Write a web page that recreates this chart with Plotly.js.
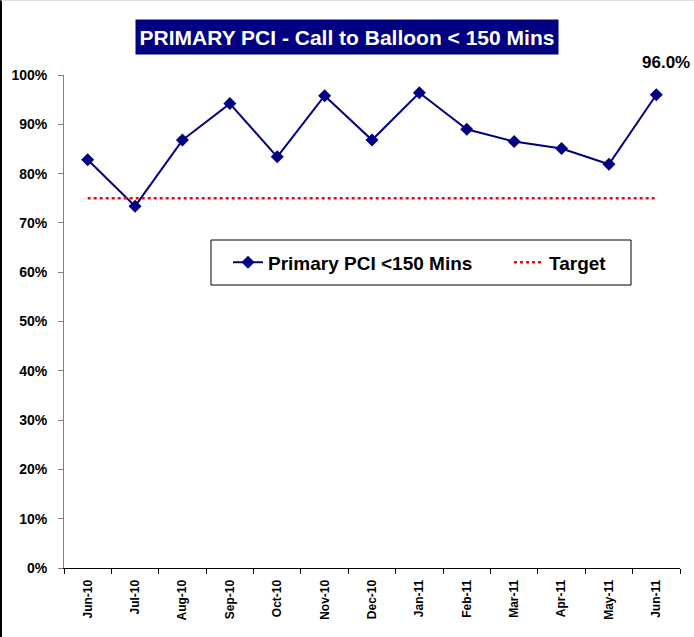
<!DOCTYPE html>
<html>
<head>
<meta charset="utf-8">
<script src="https://cdn.plot.ly/plotly-3.0.1.min.js"></script>
<style>
  html, body { margin: 0; padding: 0; background: #fff; }
  #chart { width: 694px; height: 637px; position: absolute; left: 0; top: 0; }
  #frame { position: absolute; left: 0; top: 0; width: 694px; height: 637px; box-sizing: border-box;
           border-left: 2px solid #000; border-top: 1px solid #e0e0e0; pointer-events: none; }
</style>
</head>
<body>
<div id="chart"></div>
<div id="frame"></div>
<script>
const months = ["Jun-10","Jul-10","Aug-10","Sep-10","Oct-10","Nov-10","Dec-10","Jan-11","Feb-11","Mar-11","Apr-11","May-11","Jun-11"];
const pciValues = [82.8, 73.4, 86.8, 94.2, 83.4, 95.8, 86.8, 96.4, 89.0, 86.5, 85.1, 81.9, 96.0];
const targetValues = [75, 75, 75, 75, 75, 75, 75, 75, 75, 75, 75, 75, 75];
const yTickVals = [0, 10, 20, 30, 40, 50, 60, 70, 80, 90, 100];
const yTickText = ["0%", "10%", "20%", "30%", "40%", "50%", "60%", "70%", "80%", "90%", "100%"];
const seriesNames = ["Primary PCI <150 Mins", "Target"];
const titleText = "PRIMARY PCI - Call to Balloon < 150 Mins";
const lastLabel = "96.0%";

const font = "Arial, 'Liberation Sans', sans-serif";
const NB = "\u00a0";

// pixel helpers for paper coordinates (plot area 64..680 x 75..568)
const px = v => (v - 64) / 616;
const py = v => (568 - v) / 493;

const traces = [
  {
    x: months, y: pciValues, type: "scatter", mode: "lines+markers",
    name: seriesNames[0] + NB.repeat(6),
    line: { color: "#000080", width: 2 },
    marker: { symbol: "diamond", size: 10, color: "#000080" }
  },
  {
    x: months, y: targetValues, type: "scatter", mode: "lines",
    name: seriesNames[1],
    line: { color: "#ff0000", width: 2.5, dash: "dot" }
  }
];

const layout = {
  width: 694, height: 637,
  margin: { l: 64, r: 14, t: 75, b: 69 },
  paper_bgcolor: "#ffffff", plot_bgcolor: "#ffffff",
  font: { family: font, color: "#000" },
  showlegend: true,
  legend: {
    orientation: "h",
    x: px(228), y: py(262.5), xanchor: "left", yanchor: "middle",
    borderwidth: 0,
    font: { family: font, size: 19, weight: "bold", color: "#000" },
    bgcolor: "rgba(0,0,0,0)"
  },
  shapes: [
    {
      type: "rect", xref: "paper", yref: "paper",
      x0: px(211), x1: px(631), y0: py(240), y1: py(285),
      line: { color: "#000", width: 1 }, fillcolor: "#fff", layer: "below"
    }
  ],
  xaxis: {
    type: "category",
    range: [-0.5, months.length - 0.5],
    showline: true, linecolor: "#000", linewidth: 1,
    ticks: "outside", ticklen: 5, tickcolor: "#000", tickson: "boundaries",
    tickangle: -90, ticklabelstandoff: 6,
    tickfont: { family: font, size: 12, weight: "bold", color: "#000" },
    showgrid: false, zeroline: false, fixedrange: true
  },
  yaxis: {
    range: [0, 100],
    tickmode: "array", tickvals: yTickVals, ticktext: yTickText,
    showline: true, linecolor: "#808080", linewidth: 1,
    ticks: "outside", ticklen: 5, tickcolor: "#808080", ticklabelstandoff: 8,
    tickfont: { family: font, size: 14, weight: "bold", color: "#000" },
    showgrid: false, zeroline: false, fixedrange: true
  },
  annotations: [
    {
      xref: "paper", yref: "paper",
      x: px(347), y: py(37),
      xanchor: "center", yanchor: "middle",
      text: "<b>" + titleText + "</b>",
      showarrow: false,
      font: { family: font, size: 21, color: "#ffffff" },
      bgcolor: "#000080",
      width: 420, height: 32, borderpad: 1
    },
    {
      x: months[months.length - 1], y: pciValues[pciValues.length - 1],
      xref: "x", yref: "y",
      text: "<b>" + lastLabel + "</b>",
      showarrow: false,
      xshift: 10, yshift: 32,
      font: { family: font, size: 17, color: "#000" }
    }
  ]
};

Plotly.newPlot("chart", traces, layout, { displayModeBar: false, staticPlot: true });
</script>
</body>
</html>
